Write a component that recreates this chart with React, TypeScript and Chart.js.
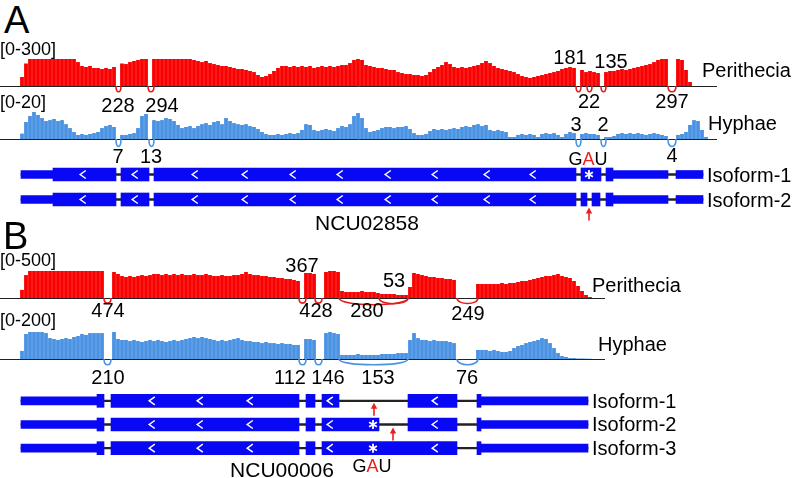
import React, { useEffect, useRef } from "react";
import { Chart, registerables } from "chart.js";

Chart.register(...registerables);

// ---------------- DATA ----------------
// coverage bins: width BIN (genomic units), first bin starts at *CovStart
const BIN = 4;

const aCovStart = 20;
const aPerithecia = [
  100, 250, 300, 300, 300, 300, 300, 300, 300, 300,
  300, 300, 300, 300, 266, 222, 211, 222, 200, 200,
  189, 200, 189, 211, 0, 250, 244, 266, 278, 289,
  300, 300, 0, 300, 300, 300, 300, 300, 300, 300,
  300, 300, 300, 289, 278, 266, 278, 255, 244, 233,
  222, 222, 211, 200, 189, 189, 178, 167, 155, 122,
  100, 111, 133, 167, 200, 222, 222, 211, 222, 211,
  222, 211, 222, 200, 211, 222, 211, 222, 211, 222,
  233, 233, 255, 289, 300, 289, 233, 222, 211, 200,
  200, 189, 178, 178, 155, 144, 133, 133, 122, 122,
  111, 122, 155, 189, 211, 233, 266, 244, 211, 200,
  211, 200, 211, 222, 233, 255, 278, 255, 222, 200,
  189, 178, 167, 155, 133, 111, 100, 89, 100, 111,
  122, 133, 144, 155, 167, 189, 200, 211, 200, 0,
  178, 155, 167, 155, 144, 0, 155, 167, 167, 178,
  189, 178, 189, 200, 211, 222, 233, 244, 266, 289,
  300, 300, 0, 0, 300, 289, 178, 44,
];
const aHyphae = [
  4, 12.6, 17, 20, 17.8, 15.5, 13.3, 14, 14.8, 13.3,
  14, 11, 8.1, 5.2, 3, 3.7, 3, 3.7, 4.4, 5.2,
  8.1, 9.6, 10.4, 8.9, 0, 3, 3, 3.7, 4.4, 8.1,
  17, 18.5, 0, 14, 13.3, 14, 15.5, 14.8, 13.3, 10.4,
  8.1, 8.9, 9.6, 8.1, 9.6, 11, 11.8, 10.4, 12.6, 13.3,
  11, 15.5, 13.3, 11.8, 11, 10.4, 11, 9.6, 8.9, 7.4,
  5.2, 3.7, 3, 3, 3.7, 3, 3.7, 4.4, 3.7, 4.4,
  6.7, 11, 10.4, 6.7, 5.9, 6.7, 7.4, 6.7, 5.9, 8.1,
  9.6, 8.9, 11, 17, 19.2, 15.5, 8.1, 5.2, 5.9, 6.7,
  8.1, 8.9, 8.9, 8.1, 8.9, 8.9, 9.6, 7.4, 4.4, 3,
  3, 3.7, 5.9, 7.4, 6.7, 7.4, 6.7, 7.4, 8.1, 7.4,
  8.9, 9.6, 8.9, 10.4, 11, 9.6, 10.4, 6.7, 5.9, 6.7,
  5.9, 5.2, 1.5, 1.5, 3, 3.7, 3, 3.7, 3, 1.5,
  3.7, 4.4, 3.7, 4.4, 3, 1.5, 3.7, 5.2, 4.4, 0,
  3.7, 4.4, 3.7, 3.7, 3, 0, 1.5, 1.5, 2.2, 3.7,
  4.4, 3.7, 4.4, 3.7, 4.4, 3.7, 3, 3.7, 4.4, 3.7,
  3, 2.2, 0, 0, 3, 3.7, 5.2, 10.4, 14, 13.3,
  6.7, 1.5,
];
const aPeriMax = 300;
const aHyphMax = 20;

const bCovStart = 20;
const bPerithecia = [
  150, 425, 500, 500, 500, 500, 500, 500, 500, 500,
  500, 500, 500, 500, 500, 500, 500, 500, 500, 500,
  500, 0, 0, 481, 444, 407, 389, 407, 389, 407,
  425, 407, 425, 444, 444, 425, 444, 425, 444, 425,
  444, 425, 425, 444, 425, 425, 444, 425, 407, 407,
  425, 407, 407, 425, 425, 444, 481, 444, 425, 425,
  407, 407, 389, 389, 370, 370, 352, 352, 333, 315,
  0, 463, 463, 444, 0, 0, 481, 500, 500, 481,
  130, 111, 111, 111, 111, 130, 111, 111, 111, 93,
  74, 74, 74, 74, 56, 56, 56, 204, 463, 444,
  425, 407, 389, 389, 370, 370, 352, 352, 333, 0,
  0, 0, 0, 0, 259, 259, 259, 259, 259, 259,
  278, 259, 278, 278, 296, 315, 315, 333, 352, 370,
  389, 407, 407, 425, 444, 407, 389, 370, 315, 222,
  130, 56, 19,
];
const bHyphae = [
  60, 185, 200, 200, 200, 200, 192, 155, 148, 141,
  148, 155, 148, 163, 170, 185, 178, 192, 192, 192,
  192, 0, 0, 200, 148, 141, 141, 133, 141, 133,
  126, 133, 141, 133, 141, 133, 126, 133, 141, 133,
  141, 148, 155, 163, 155, 163, 155, 148, 141, 133,
  141, 133, 141, 148, 155, 141, 133, 133, 126, 126,
  118, 126, 118, 118, 111, 118, 111, 111, 104, 104,
  0, 148, 148, 141, 0, 0, 192, 200, 192, 185,
  30, 30, 30, 30, 37, 30, 30, 30, 30, 30,
  37, 37, 37, 37, 44, 44, 44, 141, 192, 155,
  141, 141, 133, 141, 133, 133, 133, 126, 118, 0,
  0, 0, 0, 0, 67, 67, 67, 59, 67, 59,
  52, 52, 59, 81, 96, 104, 118, 126, 133, 141,
  155, 148, 118, 81, 44, 22, 15, 7, 7, 4,
  4, 3, 2,
];
const bPeriMax = 500;
const bHyphMax = 200;

// splice junctions: [start, end, reads]
const aPeriJunctions = [[116, 121, 228], [148, 154, 294], [576, 581, 181], [587, 592, 22], [601, 606, 135], [668, 676, 297]];
const aHyphJunctions = [[116, 121, 7], [149, 154, 13], [576, 581, 3], [601, 606, 2], [668, 676, 4]];
const bPeriJunctions = [[104, 111, 474], [299, 306, 367], [315, 322, 428], [339, 408, 280], [379, 408, 53], [457, 478, 249]];
const bHyphJunctions = [[104, 111, 210], [299, 306, 112], [315, 322, 146], [339, 408, 153], [457, 478, 76]];

// gene models
const aIsoforms = ["Isoform-1", "Isoform-2"];
const aGeneSpan = [21, 703];
const aCds = [
  [[53, 116], [121, 149], [154, 576], [581, 601], [606, 613]],
  [[53, 116], [121, 149], [154, 576], [581, 587], [592, 600], [606, 613]],
];
const aUtr = [
  [[21, 53], [613, 668], [676, 703]],
  [[21, 53], [613, 668], [676, 703]],
];
const aStrandMarks = [83, 135, 195, 245, 293, 340, 388, 435, 487, 533];
const aStops = [[0, 589]];
const aEdits = [[1, 589]];

const bIsoforms = ["Isoform-1", "Isoform-2", "Isoform-3"];
const bGeneSpan = [21, 588];
const bCds = [
  [[97, 104], [111, 299], [306, 315], [322, 339], [408, 457], [477, 481]],
  [[97, 104], [111, 299], [306, 315], [322, 379], [408, 457], [477, 481]],
  [[97, 104], [111, 299], [306, 315], [322, 457], [477, 481]],
];
const bUtr = [
  [[21, 97], [481, 588]],
  [[21, 97], [481, 588]],
  [[21, 97], [481, 588]],
];
const bStrandMarks = [152, 200, 250, 330, 435];
const bStops = [[1, 373], [2, 373]];
const bEdits = [[0, 374], [1, 393]];

// ---------------- STYLE / LAYOUT ----------------
const W = 796;
const FONT = '"Liberation Sans", Arial, Helvetica, sans-serif';
const RED = "rgb(250,0,0)";
const ARC_RED = "rgb(225,30,30)";
const LBLUE = "rgb(74,146,226)";
const GENE = "rgb(8,8,245)";

function Coverage(props: any) {
  const ref = useRef<HTMLCanvasElement>(null);
  const { top, height, areaTop, base, start, values, yMax, color, arcColor, junctions, lineEnd, depth, slope } = props;
  useEffect(() => {
    const data = values.map((v: number, i: number) => ({ x: start + i * BIN + BIN / 2, y: v }));
    const deco = {
      id: "deco",
      afterDatasetsDraw(chart: any) {
        const { ctx, chartArea, scales } = chart;
        const x = scales.x;
        const b = chartArea.bottom;
        ctx.save();
        ctx.strokeStyle = "#222";
        ctx.lineWidth = 1;
        ctx.beginPath();
        ctx.moveTo(x.getPixelForValue(0), b + 0.5);
        ctx.lineTo(x.getPixelForValue(lineEnd), b + 0.5);
        ctx.stroke();
        ctx.strokeStyle = arcColor;
        ctx.lineWidth = 1.6;
        for (const j of junctions) {
          const xs = x.getPixelForValue(j[0]);
          const xe = x.getPixelForValue(j[1]);
          const d = (depth + slope * (xe - xs)) * 1.33;
          ctx.beginPath();
          ctx.moveTo(xs, b);
          ctx.bezierCurveTo(xs, b + d, xe, b + d, xe, b);
          ctx.stroke();
        }
        ctx.restore();
      },
    };
    const chart = new Chart(ref.current as HTMLCanvasElement, {
      type: "bar",
      data: {
        datasets: [
          { data, backgroundColor: color, borderWidth: 0, barPercentage: 1, categoryPercentage: 0.95 } as any,
        ],
      },
      options: {
        animation: false,
        responsive: false,
        events: [],
        layout: { padding: { top: areaTop - top, bottom: top + height - base, left: 0, right: 0 } },
        plugins: { legend: { display: false }, tooltip: { enabled: false } },
        scales: {
          x: { type: "linear", min: 0, max: W, display: false, offset: false } as any,
          y: { min: 0, max: yMax, display: false },
        },
      },
      plugins: [deco],
    });
    return () => chart.destroy();
  }, []);
  return (
    <canvas ref={ref} width={W} height={height}
      style={{ position: "absolute", left: 0, top, width: W, height }} />
  );
}

function GeneModel(props: any) {
  const ref = useRef<HTMLCanvasElement>(null);
  const { top, height, padTop, padBottom, isoforms, cds, utr, span, marks, stops, edits, arrowGap } = props;
  useEffect(() => {
    const flat = (lists: number[][][]) =>
      lists.flatMap((l, i) => l.map((r) => ({ x: r, y: isoforms[i] })));
    const deco = {
      id: "genedeco",
      afterDatasetsDraw(chart: any) {
        const { ctx, scales } = chart;
        const x = scales.x, y = scales.y;
        ctx.save();
        // strand chevrons
        ctx.strokeStyle = "#fff";
        ctx.lineWidth = 1.5;
        isoforms.forEach((_: string, i: number) => {
          const yc = y.getPixelForValue(i);
          for (const p of marks) {
            if (!cds[i].some((r: number[]) => p > r[0] && p < r[1])) continue;
            const xc = x.getPixelForValue(p);
            ctx.beginPath();
            ctx.moveTo(xc + 2.8, yc - 4);
            ctx.lineTo(xc - 2.8, yc);
            ctx.lineTo(xc + 2.8, yc + 4);
            ctx.stroke();
          }
        });
        // stop codons (asterisks)
        ctx.lineWidth = 1.8;
        for (const s of stops) {
          const xc = x.getPixelForValue(s[1]);
          const yc = y.getPixelForValue(s[0]);
          for (const ang of [90, 30, 150]) {
            const r = (ang * Math.PI) / 180;
            ctx.beginPath();
            ctx.moveTo(xc - 4.5 * Math.cos(r), yc - 4.5 * Math.sin(r));
            ctx.lineTo(xc + 4.5 * Math.cos(r), yc + 4.5 * Math.sin(r));
            ctx.stroke();
          }
        }
        // editing sites (red arrows)
        ctx.strokeStyle = "rgb(235,30,30)";
        ctx.fillStyle = "rgb(235,30,30)";
        edits.forEach((e: number[], k: number) => {
          const xc = x.getPixelForValue(e[1]);
          const tip = y.getPixelForValue(e[0]) + arrowGap[k];
          ctx.lineWidth = 1.6;
          ctx.beginPath();
          ctx.moveTo(xc, tip + 13);
          ctx.lineTo(xc, tip + 4);
          ctx.stroke();
          ctx.beginPath();
          ctx.moveTo(xc, tip);
          ctx.lineTo(xc - 3.2, tip + 6);
          ctx.lineTo(xc + 3.2, tip + 6);
          ctx.closePath();
          ctx.fill();
        });
        ctx.restore();
      },
    };
    const chart = new Chart(ref.current as HTMLCanvasElement, {
      type: "bar",
      data: {
        labels: isoforms,
        datasets: [
          { data: flat(cds), backgroundColor: GENE, barThickness: 13, grouped: false, borderWidth: 0 } as any,
          { data: flat(utr), backgroundColor: GENE, barThickness: 8, grouped: false, borderWidth: 0 } as any,
          { data: isoforms.map((iso: string) => ({ x: span, y: iso })), backgroundColor: "#222", barThickness: 1.6, grouped: false, borderWidth: 0 } as any,
        ],
      },
      options: {
        indexAxis: "y",
        animation: false,
        responsive: false,
        events: [],
        layout: { padding: { top: padTop, bottom: padBottom, left: 0, right: 0 } },
        plugins: { legend: { display: false }, tooltip: { enabled: false } },
        scales: {
          x: { type: "linear", min: 0, max: W, display: false } as any,
          y: { type: "category", display: false, offset: true } as any,
        },
      },
      plugins: [deco],
    });
    return () => chart.destroy();
  }, []);
  return (
    <canvas ref={ref} width={W} height={height}
      style={{ position: "absolute", left: 0, top, width: W, height }} />
  );
}

function T(props: any) {
  const { x, y, s = 20, a = "left", children } = props;
  return (
    <div
      style={{
        position: "absolute",
        left: x,
        top: y - 0.49 * s,
        fontSize: s,
        lineHeight: "1",
        fontFamily: FONT,
        color: "#000",
        whiteSpace: "nowrap",
        transform: a === "center" ? "translateX(-50%)" : undefined,
      }}
    >
      {children}
    </div>
  );
}

const GAU = () => (
  <>G<span style={{ color: "rgb(235,30,30)" }}>A</span>U</>
);

// label anchor points for the junction counts (same order as the junction arrays)
const aPeriLabelPos = [[118, 105], [162, 105], [570, 57], [589, 101], [611, 61], [672, 101]];
const aHyphLabelPos = [[118, 156], [151, 156], [576, 124], [603, 124], [672, 155]];
const bPeriLabelPos = [[108, 310], [302, 265], [316, 310], [367, 310], [394, 280], [468, 313]];
const bHyphLabelPos = [[108, 377], [290, 377], [328, 377], [378, 377], [467, 377]];

function JunctionLabels({ junctions, pos }: any) {
  return (
    <>
      {junctions.map((j: number[], i: number) => (
        <T key={i} x={pos[i][0]} y={pos[i][1]} s={20} a="center">{String(j[2])}</T>
      ))}
    </>
  );
}

export default function App() {
  useEffect(() => {
    document.body.style.margin = "0";
  }, []);
  return (
    <div style={{ position: "fixed", left: 0, top: 0, width: W, height: 478, background: "#fff", overflow: "hidden" }}>
      {/* Panel A */}
      <Coverage top={45} height={65} areaTop={59} base={86} start={aCovStart} values={aPerithecia} yMax={aPeriMax}
        color={RED} arcColor={ARC_RED} junctions={aPeriJunctions} lineEnd={717} depth={5.8} slope={0} />
      <Coverage top={100} height={56} areaTop={112} base={139} start={aCovStart} values={aHyphae} yMax={aHyphMax}
        color={LBLUE} arcColor={LBLUE} junctions={aHyphJunctions} lineEnd={717} depth={7.5} slope={0} />
      <GeneModel top={150} height={80} padTop={12} padBottom={18} isoforms={aIsoforms} cds={aCds} utr={aUtr}
        span={aGeneSpan} marks={aStrandMarks} stops={aStops} edits={aEdits} arrowGap={[8]} />

      {/* Panel B */}
      <Coverage top={258} height={58} areaTop={271} base={298} start={bCovStart} values={bPerithecia} yMax={bPeriMax}
        color={RED} arcColor={ARC_RED} junctions={bPeriJunctions} lineEnd={605} depth={5} slope={0.025} />
      <Coverage top={320} height={56} areaTop={332} base={359} start={bCovStart} values={bHyphae} yMax={bHyphMax}
        color={LBLUE} arcColor={LBLUE} junctions={bHyphJunctions} lineEnd={605} depth={5.8} slope={0} />
      <GeneModel top={380} height={98} padTop={9} padBottom={18} isoforms={bIsoforms} cds={bCds} utr={bUtr}
        span={bGeneSpan} marks={bStrandMarks} stops={bStops} edits={bEdits} arrowGap={[2, 3]} />

      {/* Text: panel A */}
      <T x={4} y={20} s={38}>A</T>
      <T x={0} y={49} s={18}>[0-300]</T>
      <T x={702} y={70} s={20}>Perithecia</T>
      <JunctionLabels junctions={aPeriJunctions} pos={aPeriLabelPos} />
      <T x={0} y={102} s={18}>[0-20]</T>
      <T x={708} y={123} s={20}>Hyphae</T>
      <JunctionLabels junctions={aHyphJunctions} pos={aHyphLabelPos} />
      <T x={588} y={159} s={18} a="center"><GAU /></T>
      <T x={707} y={174.5} s={20}>{aIsoforms[0]}</T>
      <T x={707} y={199.5} s={20}>{aIsoforms[1]}</T>
      <T x={367} y={222} s={21} a="center">NCU02858</T>

      {/* Text: panel B */}
      <T x={3} y={236} s={38}>B</T>
      <T x={0} y={260} s={18}>[0-500]</T>
      <T x={592} y={285} s={20}>Perithecia</T>
      <JunctionLabels junctions={bPeriJunctions} pos={bPeriLabelPos} />
      <T x={0} y={320} s={18}>[0-200]</T>
      <T x={598} y={344} s={20}>Hyphae</T>
      <JunctionLabels junctions={bHyphJunctions} pos={bHyphLabelPos} />
      <T x={592} y={400.5} s={20}>{bIsoforms[0]}</T>
      <T x={592} y={424} s={20}>{bIsoforms[1]}</T>
      <T x={592} y={448} s={20}>{bIsoforms[2]}</T>
      <T x={282} y={469.5} s={21} a="center">NCU00006</T>
      <T x={372} y={465.5} s={18} a="center"><GAU /></T>
    </div>
  );
}
